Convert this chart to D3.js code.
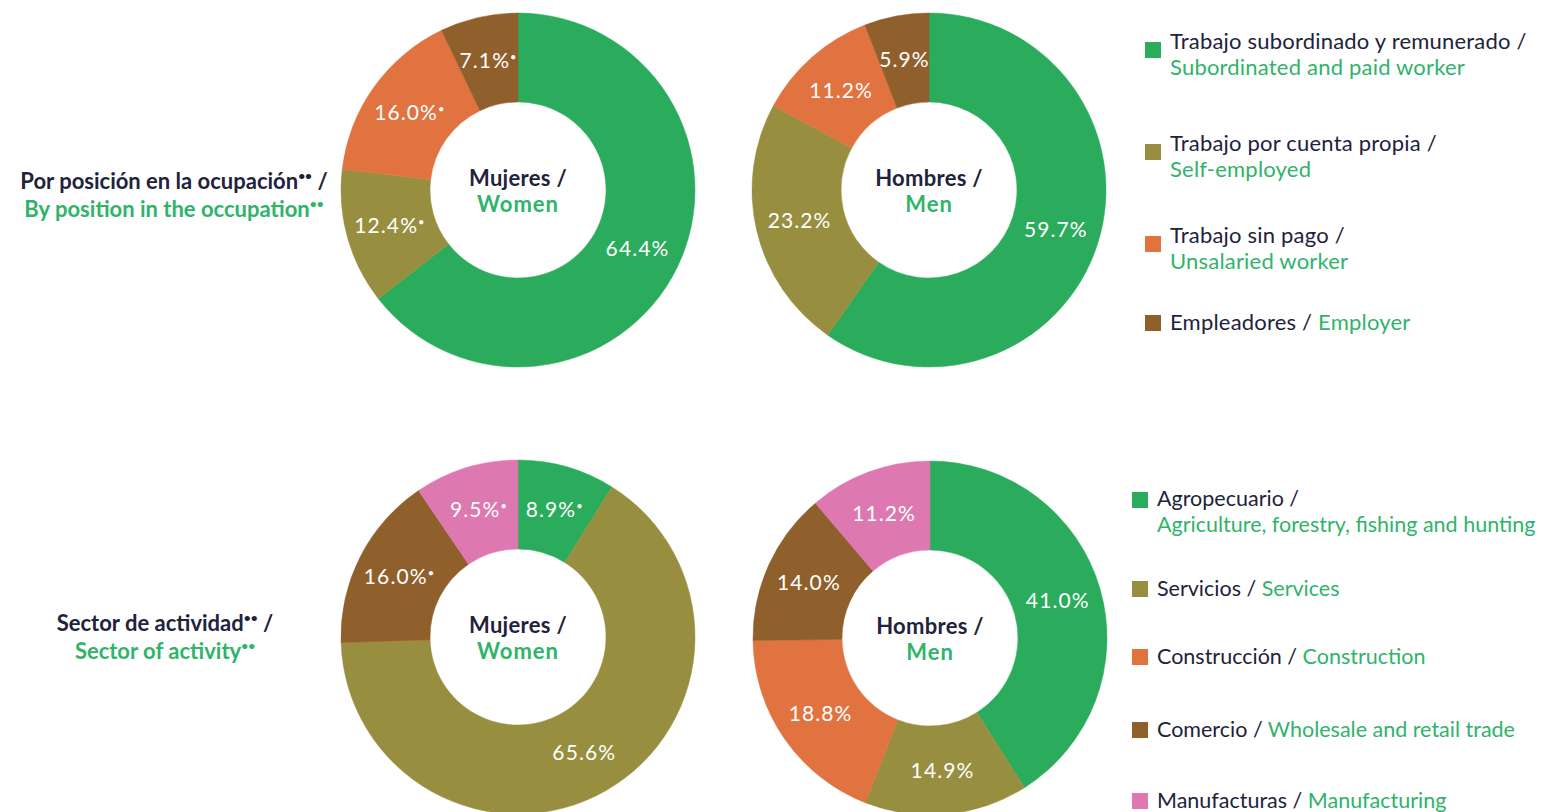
<!DOCTYPE html>
<html>
<head>
<meta charset="utf-8">
<script src="https://cdn.jsdelivr.net/npm/d3@7"></script>
<style>
  html, body { margin: 0; padding: 0; background: #ffffff; }
  svg { display: block; }
  text { font-family: Lato, "Open Sans", sans-serif; }
</style>
</head>
<body>
<svg id="chart" width="1549" height="812"></svg>
<script>
// ---------- DATA ----------
const positionCategoriesEs = ["Trabajo subordinado y remunerado", "Trabajo por cuenta propia", "Trabajo sin pago", "Empleadores"];
const positionCategoriesEn = ["Subordinated and paid worker", "Self-employed", "Unsalaried worker", "Employer"];
const positionWomen = [64.4, 12.4, 16.0, 7.1];
const positionWomenFlag = [false, true, true, true];
const positionMen = [59.7, 23.2, 11.2, 5.9];
const positionMenFlag = [false, false, false, false];

const sectorCategoriesEs = ["Agropecuario", "Servicios", "Construcción", "Comercio", "Manufacturas"];
const sectorCategoriesEn = ["Agriculture, forestry, fishing and hunting", "Services", "Construction", "Wholesale and retail trade", "Manufacturing"];
const sectorWomen = [8.9, 65.6, 0, 16.0, 9.5];
const sectorWomenFlag = [true, false, false, true, true];
const sectorMen = [41.0, 14.9, 18.8, 14.0, 11.2];
const sectorMenFlag = [false, false, false, false, false];

const positionColors = ["#2aac5c", "#978f3f", "#e07340", "#8f5f2c"];
const sectorColors = ["#2aac5c", "#978f3f", "#e07340", "#8f5f2c", "#de78b0"];

const groupTitlesEs = ["Por posición en la ocupación", "Sector de actividad"];
const groupTitlesEn = ["By position in the occupation", "Sector of activity"];
const centerEs = ["Mujeres /", "Hombres /"];
const centerEn = ["Women", "Men"];

// ---------- STYLE ----------
const DARK = "#22223c";
const GREEN_TXT = "#30b36a";

const svg = d3.select("#chart");

const outerR = 177, innerR = 88;
const arc = d3.arc().innerRadius(innerR).outerRadius(outerR);
const labelArc = d3.arc().innerRadius(133).outerRadius(133);
const pie = d3.pie().sort(null).value(d => d.v);

function donut(cx, cy, values, flags, colors, titleEs, titleEn) {
  const g = svg.append("g").attr("transform", `translate(${cx},${cy})`);
  const data = values.map((v, i) => ({ v, flag: flags[i], color: colors[i] }));
  const arcs = pie(data);
  g.selectAll("path.slice").data(arcs).join("path")
    .attr("class", "slice")
    .attr("d", arc)
    .attr("fill", d => d.data.color)
    .attr("stroke", d => d.data.color)
    .attr("stroke-width", 0.5);
  const lab = g.selectAll("text.lbl").data(arcs.filter(d => d.data.v > 0)).join("text")
    .attr("class", "lbl")
    .attr("transform", d => `translate(${labelArc.centroid(d)})`)
    .attr("text-anchor", "middle")
    .attr("dy", "0.35em")
    .attr("fill", "#ffffff")
    .attr("font-size", 21)
    .attr("letter-spacing", 1.1);
  lab.append("tspan").text(d => d3.format(".1f")(d.data.v) + "%");
  lab.filter(d => d.data.flag).append("tspan")
    .attr("font-size", 11).attr("dy", -7).attr("dx", 0).text("•");
  g.append("text").attr("text-anchor", "middle").attr("y", -4)
    .attr("font-size", 22).attr("font-weight", "bold").attr("fill", DARK)
    .attr("letter-spacing", 0.3).text(titleEs);
  g.append("text").attr("text-anchor", "middle").attr("y", 22)
    .attr("font-size", 22).attr("font-weight", "bold").attr("fill", GREEN_TXT)
    .attr("letter-spacing", 1).text(titleEn);
}

// group titles on the left
function groupTitle(x, y, es, en) {
  const t1 = svg.append("text").attr("x", x).attr("y", y).attr("text-anchor", "middle")
    .attr("font-size", 22).attr("font-weight", "bold").attr("fill", DARK);
  t1.append("tspan").text(es);
  t1.append("tspan").attr("font-size", 12).attr("dy", -9).attr("fill", DARK).text("••");
  t1.append("tspan").attr("dy", 9).text(" /");
  const t2 = svg.append("text").attr("x", x).attr("y", y + 28).attr("text-anchor", "middle")
    .attr("font-size", 22).attr("font-weight", "bold").attr("fill", GREEN_TXT);
  t2.append("tspan").text(en);
  t2.append("tspan").attr("font-size", 12).attr("dy", -9).text("••");
}

groupTitle(174, 189, groupTitlesEs[0], groupTitlesEn[0]);
groupTitle(165, 631, groupTitlesEs[1], groupTitlesEn[1]);

donut(518, 190, positionWomen, positionWomenFlag, positionColors, centerEs[0], centerEn[0]);
donut(929, 190, positionMen, positionMenFlag, positionColors, centerEs[1], centerEn[1]);
donut(518, 637, sectorWomen, sectorWomenFlag, sectorColors, centerEs[0], centerEn[0]);
donut(930, 638, sectorMen, sectorMenFlag, sectorColors, centerEs[1], centerEn[1]);

// legends
function legend(x, baselines, es, en, colors, twoLine, sqOffsets, fs, ls) {
  es.forEach((name, i) => {
    const b = baselines[i];
    const two = twoLine[i];
    svg.append("rect").attr("x", x).attr("y", b + sqOffsets[two ? 1 : 0]).attr("width", 16).attr("height", 16)
      .attr("fill", colors[i]);
    const t = svg.append("text").attr("x", x + 25).attr("y", b).attr("font-size", fs)
      .attr("letter-spacing", ls).attr("fill", DARK);
    if (two) {
      t.append("tspan").text(name + " /");
      svg.append("text").attr("x", x + 25).attr("y", b + 26).attr("font-size", fs)
        .attr("letter-spacing", ls).attr("fill", GREEN_TXT).text(en[i]);
    } else {
      t.append("tspan").text(name + " / ");
      t.append("tspan").attr("fill", GREEN_TXT).text(en[i]);
    }
  });
}

legend(1145, [49, 151, 243, 330], positionCategoriesEs, positionCategoriesEn, positionColors,
  [true, true, true, false], [-15, -7], 22, 0.2);
legend(1132, [506, 596, 664, 737, 808], sectorCategoriesEs, sectorCategoriesEn, sectorColors,
  [true, false, false, false, false], [-15, -14], 21.5, 0);
</script>
</body>
</html>
